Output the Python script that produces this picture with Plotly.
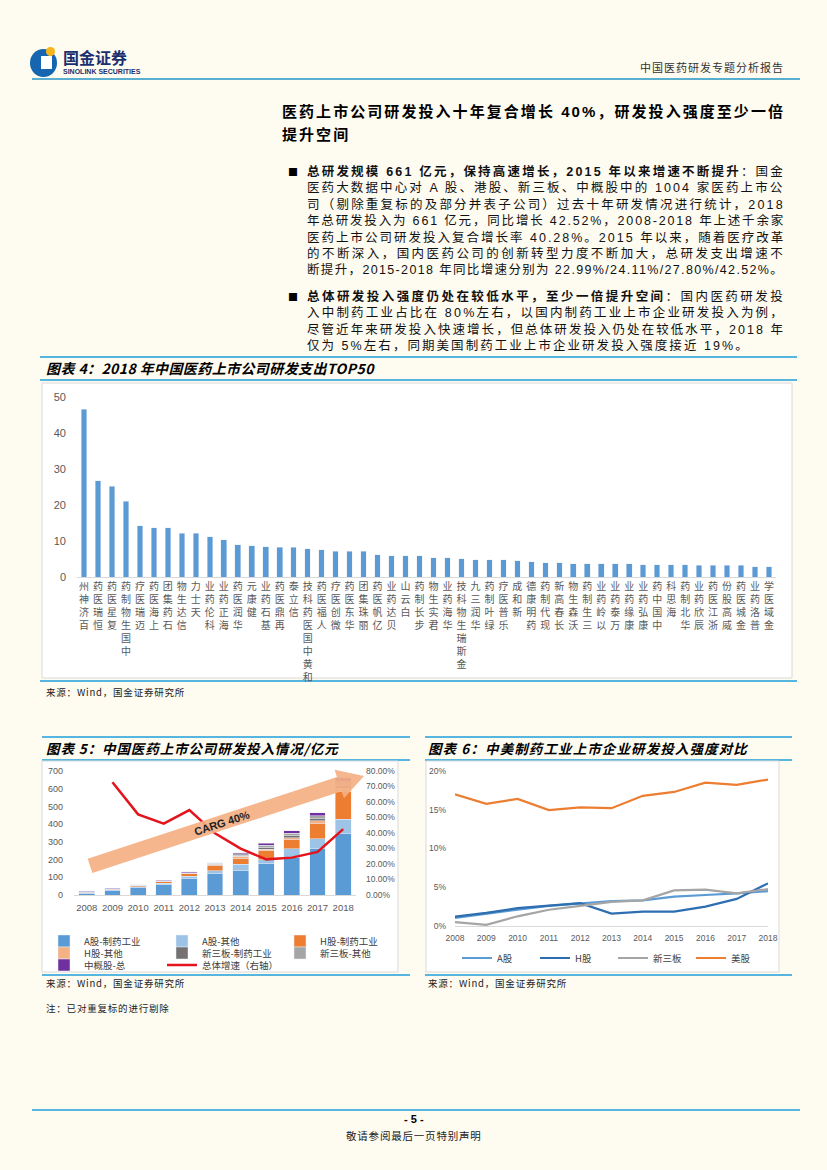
import re
import math
import plotly.graph_objects as go

W, H = 827, 1170
def X(px): return px / W
def Y(py): return 1 - py / H

# ---------------- DATA ----------------
companies = ["百济神州", "恒瑞医药", "复星医药", "中国生物制药", "迈瑞医疗", "上海医药", "石药集团",
             "信达生物", "天士力", "科伦药业", "海正药业", "华润医药", "健康元", "基石药业", "再鼎医药",
             "信立泰", "和黄中国医药科技", "人福医药", "微创医疗", "华东医药", "丽珠集团", "亿帆医药",
             "贝达药业", "白云山", "步长制药", "君实生物", "华海药业", "金斯瑞生物科技", "华润三九",
             "绿叶制药", "乐普医疗", "新和成", "药明康德", "现代制药", "长春高新", "沃森生物", "三生制药",
             "以岭药业", "万泰药业", "康缘药业", "康弘药业", "中国中药", "海思科", "华北制药", "辰欣药业",
             "浙江医药", "威高股份", "金城医药", "普洛药业", "金域医学"]
rd_2018 = [46.6, 26.8, 25.2, 21.0, 14.3, 13.7, 13.7, 12.2, 12.2, 11.2, 10.4, 9.0, 8.7, 8.4, 8.2,
           8.2, 7.9, 7.6, 7.1, 7.1, 7.1, 6.2, 5.9, 5.9, 5.9, 5.4, 5.4, 5.1, 4.8, 4.8, 4.8, 4.5, 4.3,
           4.0, 4.0, 3.7, 3.7, 3.7, 3.7, 3.7, 3.4, 3.4, 3.4, 3.4, 3.2, 3.2, 3.2, 3.2, 2.9, 2.9]

years = ["2008", "2009", "2010", "2011", "2012", "2013", "2014", "2015", "2016", "2017", "2018"]
a_pharma = [11, 25, 40, 57, 92, 120, 141, 177, 210, 260, 350]
a_other = [2.5, 4, 6, 9, 14, 17, 33, 23, 50, 58, 79]
h_pharma = [3, 4, 6, 10, 14, 31, 32, 50, 54, 85, 155]
h_other = [1, 1.5, 2, 3, 4, 5, 13, 9, 10, 15, 19]
neeq_pharma = [0, 0.2, 0.5, 1, 1.5, 3, 5, 10, 12, 13, 17]
neeq_other = [0, 0.2, 0.4, 1, 1.5, 3, 8, 13, 14, 15, 20]
adr_total = [4.6, 3.2, 3, 3.6, 3.9, 4, 5.7, 10.4, 12.9, 17.8, 21]
growth = [None, 0.727, 0.520, 0.460, 0.548, 0.398, 0.299, 0.2299, 0.2411, 0.2780, 0.4252]

int_a = [0.0103, 0.016, 0.021, 0.026, 0.029, 0.032, 0.033, 0.038, 0.040, 0.042, 0.045]
int_h = [0.012, 0.017, 0.023, 0.026, 0.0295, 0.016, 0.0185, 0.0185, 0.025, 0.035, 0.055]
int_neeq = [0.005, 0.0015, 0.0125, 0.021, 0.026, 0.031, 0.033, 0.046, 0.047, 0.042, 0.0475]
int_us = [0.170, 0.1576, 0.164, 0.1495, 0.153, 0.152, 0.168, 0.173, 0.185, 0.182, 0.189]

# ---------------- STYLE ----------------
BG = "#fefbf1"
LAT = "Liberation Sans, Noto Sans CJK SC, sans-serif"
CJK = "Noto Sans CJK SC, Liberation Sans, sans-serif"
TICK = "#595959"
BLUE_LINE = "#1f9fd8"

fig = go.Figure()

# Chart 4: TOP50 bars
fig.add_trace(go.Bar(x=companies, y=rd_2018, marker_color="#5b9bd5", width=0.4,
                     xaxis="x", yaxis="y", showlegend=False))

# Chart 5: stacked bars + growth line
c5 = [("A股-制药工业", a_pharma, "#5b9bd5", "legend"),
      ("A股-其他", a_other, "#9dc3e6", "legend"),
      ("H股-制药工业", h_pharma, "#ed7d31", "legend"),
      ("H股-其他", h_other, "#f4b183", "legend3"),
      ("新三板-制药工业", neeq_pharma, "#767171", "legend3"),
      ("新三板-其他", neeq_other, "#a5a5a5", "legend3"),
      ("中概股-总", adr_total, "#7030a0", "legend4")]
for name, vals, col, lg in c5:
    fig.add_trace(go.Bar(x=years, y=vals, name=name, marker_color=col, width=0.62,
                         xaxis="x2", yaxis="y2", legend=lg))
fig.add_trace(go.Scatter(x=years, y=growth, name="总体增速（右轴）", mode="lines",
                         line=dict(color="#e3141b", width=2.5), xaxis="x2", yaxis="y3",
                         legend="legend4"))

# Chart 6: intensity lines
for name, vals, col in [("A股", int_a, "#5b9bd5"), ("H股", int_h, "#2e6eb0"),
                        ("新三板", int_neeq, "#a5a5a5"), ("美股", int_us, "#ed7d31")]:
    fig.add_trace(go.Scatter(x=years, y=vals, name=name, mode="lines",
                             line=dict(color=col, width=2.2), xaxis="x3", yaxis="y4",
                             legend="legend2"))

# ---------------- AXES ----------------
stacked = ["<br>".join(reversed(list(n))) for n in companies]
axis_common = dict(showgrid=False, zeroline=False, ticks="", automargin=False)
fig.update_layout(
    xaxis=dict(domain=[X(77), X(776)], anchor="y", type="category", tickvals=companies,
               ticktext=stacked, tickangle=0, tickfont=dict(size=10, color=TICK, family=CJK),
               showline=True, linecolor="#d9d9d9", ticklabelstandoff=0, **axis_common),
    yaxis=dict(domain=[Y(577), Y(397)], anchor="x", range=[0, 50], dtick=10,
               tickfont=dict(size=11, color=TICK, family=LAT), ticklabelstandoff=10, **axis_common),
    xaxis2=dict(domain=[X(74), X(356)], anchor="y2", type="category", tickangle=0,
                tickfont=dict(size=9.5, color=TICK, family=LAT), showline=True,
                linecolor="#d9d9d9", ticklabelstandoff=4, **axis_common),
    yaxis2=dict(domain=[Y(895), Y(771)], anchor="x2", range=[0, 700], dtick=100,
                tickfont=dict(size=9, color=TICK, family=LAT), ticklabelstandoff=10, **axis_common),
    yaxis3=dict(overlaying="y2", side="right", anchor="x2", range=[0, 0.8], dtick=0.1,
                tickformat=".2%", tickfont=dict(size=8.5, color=TICK, family=LAT),
                ticklabelstandoff=9, **axis_common),
    xaxis3=dict(domain=[X(455), X(768)], anchor="y4", type="category", tickangle=0,
                tickfont=dict(size=8.5, color=TICK, family=LAT), showline=True,
                linecolor="#d9d9d9", ticklabelstandoff=4, **axis_common),
    yaxis4=dict(domain=[Y(926), Y(771)], anchor="x3", range=[0, 0.2], dtick=0.05,
                tickformat=".0%", tickfont=dict(size=8.5, color=TICK, family=LAT),
                ticklabelstandoff=8, **axis_common),
)

leg = dict(orientation="h", bgcolor="rgba(0,0,0,0)", font=dict(size=9.5, color="#404040", family=CJK),
           xanchor="left", yanchor="middle", itemwidth=30, entrywidthmode="pixels",
           tracegroupgap=0, itemclick=False, traceorder="normal")
fig.update_layout(
    legend=dict(leg, x=X(44), y=Y(941), entrywidth=73),
    legend3=dict(leg, x=X(44), y=Y(953), entrywidth=73),
    legend4=dict(leg, x=X(44), y=Y(965), entrywidth=73),
    legend2=dict(leg, x=X(457), y=Y(958), entrywidth=33),
)

# ---------------- SHAPES ----------------
shapes = []
def line(x0, y0, x1, y1, color, w):
    shapes.append(dict(type="line", xref="paper", yref="paper", x0=X(x0), y0=Y(y0), x1=X(x1), y1=Y(y1),
                       line=dict(color=color, width=w), layer="below"))
def rect(x0, y0, x1, y1, fill, border=None):
    shapes.append(dict(type="rect", xref="paper", yref="paper", x0=X(x0), y0=Y(y0), x1=X(x1), y1=Y(y1),
                       fillcolor=fill, line=dict(color=border or fill, width=1 if border else 0),
                       layer="below"))

# header / footer
line(32, 79, 800, 79, "#5aaed0", 2)
line(32, 1110, 800, 1110, BLUE_LINE, 1.5)
# logo
shapes.append(dict(type="circle", xref="paper", yref="paper", x0=X(30), y0=Y(49), x1=X(57), y1=Y(77),
                   fillcolor="#1565b0", line=dict(width=0)))
shapes.append(dict(type="rect", xref="paper", yref="paper", x0=X(41), y0=Y(56), x1=X(52), y1=Y(69),
                   fillcolor="white", line=dict(width=0)))
shapes.append(dict(type="circle", xref="paper", yref="paper", x0=X(46), y0=Y(47), x1=X(55), y1=Y(56),
                   fillcolor="#f5b41a", line=dict(width=0)))

# chart 4 frame
line(40, 357, 797, 357, BLUE_LINE, 1.5)
line(40, 380, 797, 380, BLUE_LINE, 1.5)
rect(42, 383, 792, 678, "white", "#d9d9d9")
line(40, 681, 797, 681, BLUE_LINE, 1.5)
# chart 5 frame
line(42, 737, 410, 737, BLUE_LINE, 1.5)
line(42, 760, 410, 760, BLUE_LINE, 1.5)
rect(42, 761, 398, 972, "white", "#d9d9d9")
line(42, 975, 410, 975, BLUE_LINE, 1.5)
# chart 6 frame
line(425, 737, 792, 737, BLUE_LINE, 1.5)
line(425, 760, 792, 760, BLUE_LINE, 1.5)
rect(426, 761, 779, 972, "white", "#d9d9d9")
line(425, 975, 792, 975, BLUE_LINE, 1.5)

# CAGR arrow (chart 5) - decorative block arrow
tail, tip = (90.0, 866.0), (364.0, 776.0)
dx, dy = tip[0] - tail[0], tip[1] - tail[1]
L = math.hypot(dx, dy)
ux, uy = dx / L, dy / L
nx, ny = -uy, ux
sw, hw, hl = 7.5, 15.0, 26.0
neck = (tip[0] - ux * hl, tip[1] - uy * hl)
pts = [(tail[0] - nx * sw, tail[1] - ny * sw), (neck[0] - nx * sw, neck[1] - ny * sw),
       (neck[0] - nx * hw, neck[1] - ny * hw), tip,
       (neck[0] + nx * hw, neck[1] + ny * hw), (neck[0] + nx * sw, neck[1] + ny * sw),
       (tail[0] + nx * sw, tail[1] + ny * sw)]
path = "M " + " L ".join(f"{X(a):.5f},{Y(b):.5f}" for a, b in pts) + " Z"
shapes.append(dict(type="path", xref="paper", yref="paper", path=path,
                   fillcolor="rgba(244,176,132,0.92)", line=dict(width=0), layer="above"))
fig.update_layout(shapes=shapes)

# ---------------- TEXT ----------------
ann = []
def txt(x, y, s, size, color="#000", xanchor="left", family=CJK, ls=None, angle=0):
    if ls:
        s = f'<span style="letter-spacing:{ls:.2f}px">{s}</span>'
    ann.append(dict(x=X(x), y=Y(y), xref="paper", yref="paper", text=s, showarrow=False,
                    xanchor=xanchor, yanchor="middle", font=dict(size=size, color=color, family=family),
                    textangle=angle, borderpad=0))

LAT_W = {" ": 0.278, "%": 0.889, ".": 0.278, "/": 0.278, "-": 0.333, "A": 0.667}
def natural(s, fs):
    plain = re.sub(r"<[^>]+>", "", s)
    w = 0.0
    for c in plain:
        w += fs if ord(c) >= 0x2E80 else LAT_W.get(c, 0.556) * fs
    return w, len(plain)
def just_ls(s, fs, target):
    w, n = natural(s, fs)
    return max(0.0, (target - w) / n)

# logo text & header
txt(62, 57, "<b>国金证券</b>", 16, "#1b2f6e")
txt(62, 71, "<b>SINOLINK SECURITIES</b>", 7, "#1b2f6e", family=LAT)
txt(785, 67, "中国医药研发专题分析报告", 11, "#333333", xanchor="right", ls=1)

# heading
h1 = "<b>医药上市公司研发投入十年复合增长 40%，研发投入强度至少一倍</b>"
h_ls = just_ls(h1, 15, 503)
txt(281, 112, h1, 15, "#000", family=LAT, ls=h_ls)
txt(281, 134, "<b>提升空间</b>", 15, "#000", family=LAT, ls=h_ls)

b1 = ["<b>总研发规模 661 亿元，保持高速增长，2015 年以来增速不断提升</b>：国金",
      "医药大数据中心对 A 股、港股、新三板、中概股中的 1004 家医药上市公",
      "司（剔除重复标的及部分并表子公司）过去十年研发情况进行统计，2018",
      "年总研发投入为 661 亿元，同比增长 42.52%，2008-2018 年上述千余家",
      "医药上市公司研发投入复合增长率 40.28%。2015 年以来，随着医疗改革",
      "的不断深入，国内医药公司的创新转型力度不断加大，总研发支出增速不",
      "断提升，2015-2018 年同比增速分别为 22.99%/24.11%/27.80%/42.52%。"]
b2 = ["<b>总体研发投入强度仍处在较低水平，至少一倍提升空间</b>：国内医药研发投",
      "入中制药工业占比在 80%左右，以国内制药工业上市企业研发投入为例，",
      "尽管近年来研发投入快速增长，但总体研发投入仍处在较低水平，2018 年",
      "仅为 5%左右，同期美国制药工业上市企业研发投入强度接近 19%。"]
FS = 12.5
TARGET = 478
txt(287, 171.5, "■", 10, "#000")
for i, s in enumerate(b1):
    txt(306, 171.5 + 16.4 * i, s, FS, "#111", family=LAT, ls=just_ls(s, FS, TARGET))
txt(287, 296.5, "■", 10, "#000")
last_ls = 2.3
for i, s in enumerate(b2):
    l = just_ls(s, FS, TARGET) if i < len(b2) - 1 else last_ls
    if i < len(b2) - 1:
        last_ls = l
    txt(306, 296.5 + 16.4 * i, s, FS, "#111", family=LAT, ls=l)

# chart titles
txt(45, 368, "<b><i>图表 4：2018 年中国医药上市公司研发支出TOP50</i></b>", 14, "#000", ls=0.4)
txt(45, 748, "<b><i>图表 5：中国医药上市公司研发投入情况/亿元</i></b>", 13.5, "#000", ls=0.9)
txt(427, 748, "<b><i>图表 6：中美制药工业上市企业研发投入强度对比</i></b>", 13.5, "#000", ls=1.1)

# sources / notes
txt(45, 692, "来源：Wind，国金证券研究所", 9.5, "#222", ls=0.8)
txt(45, 983, "来源：Wind，国金证券研究所", 9.5, "#222", ls=0.8)
txt(427, 983, "来源：Wind，国金证券研究所", 9.5, "#222", ls=0.8)
txt(45, 1008, "注：已对重复标的进行剔除", 9.5, "#222", ls=0.8)

# arrow label
txt(222, 823, "<b>CARG 40%</b>", 11, "#222", xanchor="center", family=LAT, angle=-18)

# footer
txt(413.5, 1119, "<b>- 5 -</b>", 11, "#000", xanchor="center", family=LAT)
txt(413.5, 1135, "敬请参阅最后一页特别声明", 10.5, "#222", xanchor="center", ls=0.8)

fig.update_layout(annotations=ann)

fig.update_layout(width=W, height=H, margin=dict(l=0, r=0, t=0, b=0, autoexpand=False), paper_bgcolor=BG,
                  plot_bgcolor="rgba(0,0,0,0)", barmode="stack", bargap=0.3,
                  font=dict(family=CJK), showlegend=True, hovermode=False)

fig.write_html("out.html", config={"displayModeBar": False},
               post_script="document.body.style.margin='0';document.documentElement.style.overflow='hidden';"
                           "document.body.style.overflow='hidden';")
